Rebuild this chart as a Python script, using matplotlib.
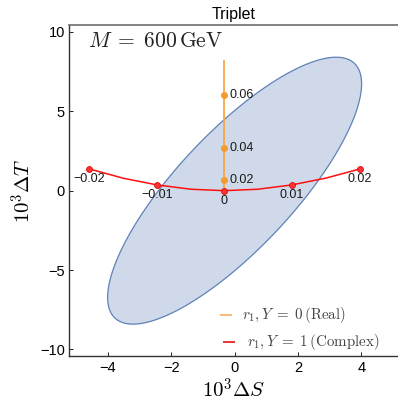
import numpy as np
import matplotlib
matplotlib.use("Agg")
import matplotlib.pyplot as plt

plt.rcParams['font.family'] = ['Liberation Sans', 'DejaVu Sans']
plt.rcParams['mathtext.fontset'] = 'cm'

# ---- data ----
# Ellipse (confidence region): centre, half-extents and correlation
ellipse_center = (0.0, 0.0)
ellipse_halfwidth_S = 4.01
ellipse_halfwidth_T = 8.41
ellipse_rho = 0.80

# Complex triplet (Y=1) curve, parametrised by r1
complex_r1 = [-0.020, -0.015, -0.010, -0.005, 0.000, 0.005, 0.010, 0.015, 0.020]
complex_S = [-4.59, -3.51, -2.44, -1.38, -0.33, 0.73, 1.80, 2.88, 3.96]
complex_T = [1.37, 0.78, 0.36, 0.09, 0.00, 0.09, 0.36, 0.79, 1.37]
complex_marked_r1 = [-0.02, -0.01, 0.0, 0.01, 0.02]
complex_labels = ["\u22120.02", "\u22120.01", "0", "0.01", "0.02"]

# Real triplet (Y=0) line, parametrised by r1
real_r1 = [0.00, 0.02, 0.04, 0.06, 0.07]
real_S = [-0.33, -0.33, -0.33, -0.33, -0.33]
real_T = [0.00, 0.67, 2.67, 6.00, 8.17]
real_marked_r1 = [0.02, 0.04, 0.06]
real_labels = ["0.02", "0.04", "0.06"]

xticks = [-4, -2, 0, 2, 4]
yticks = [-10, -5, 0, 5, 10]
legend_labels = [r"$r_1, Y \;=\; 0\,(\mathrm{Real})$", r"$r_1, Y \;=\; 1\,(\mathrm{Complex})$"]

title = "Triplet"
mass_text = r"$M \;=\; 600\,\mathrm{GeV}$"

# ---- figure ----
fig = plt.figure(figsize=(3.98, 4.03), dpi=100)
ax = fig.add_axes([69/398, 1-355.7/403, 329/398, 330.7/403])

# ellipse
t = np.linspace(0, 2*np.pi, 400)
ex = ellipse_center[0] + ellipse_halfwidth_S*np.cos(t)
ey = ellipse_center[1] + ellipse_halfwidth_T*(ellipse_rho*np.cos(t) + np.sqrt(1-ellipse_rho**2)*np.sin(t))
ax.fill(ex, ey, facecolor='#cfd9e9', edgecolor='#5f82b8', lw=0.9, zorder=1)

# real line
ax.plot(real_S, real_T, color='#f7a845', lw=1.3, zorder=2)
for r, lab in zip(real_marked_r1, real_labels):
    i = real_r1.index(r)
    ax.plot(real_S[i], real_T[i], 'o', ms=4, mfc='#f59a2c', mec='#f59a2c', zorder=3)
    ax.annotate(lab, (real_S[i], real_T[i]), xytext=(4.2, 0), textcoords='offset points',
                ha='left', va='center', fontsize=9, color='#1a1a1a', zorder=5)

# complex curve
ax.plot(complex_S, complex_T, color='#ff1010', lw=1.1, zorder=3)
for r, lab in zip(complex_marked_r1, complex_labels):
    i = complex_r1.index(r)
    ax.plot(complex_S[i], complex_T[i], 'o', ms=4.2, mfc='#ff3535', mec='#e00000', mew=0.6, zorder=4)
    ax.annotate(lab, (complex_S[i], complex_T[i]), xytext=(0, -7.2), textcoords='offset points',
                ha='center', va='center', fontsize=9, color='#1a1a1a', zorder=5)

ax.set_xlim(-5.23, 5.16)
ax.set_ylim(-10.40, 10.44)
ax.set_xticks(xticks)
ax.set_yticks(yticks)
ax.tick_params(direction='in', length=3, width=0.7, labelsize=10.5, pad=3,
               top=False, right=False, colors='#222222', labelcolor='black')
ax.tick_params(axis='x', pad=4)

for side in ['left', 'bottom']:
    ax.spines[side].set_color('#333333')
    ax.spines[side].set_linewidth(1.0)
ax.spines['top'].set_color('#777777')
ax.spines['top'].set_linewidth(1.3)
ax.spines['right'].set_visible(False)

ax.set_title(title, fontsize=11.5, pad=4)
ax.set_xlabel(r"$10^3\Delta S$", fontsize=15, labelpad=2)
ax.set_ylabel(r"$10^3\Delta T$", fontsize=15, labelpad=4)

ax.text((88-69)/329, (355.7-47)/330.7, mass_text, transform=ax.transAxes,
        fontsize=15.5, ha='left', va='baseline', color='#222222')

# legend (drawn manually to match row placement)
rows = [((220, 232), 241.7, 315, '#f7b060'), ((223, 235), 246.7, 341.7, '#e01010')]
for (lab, ((h0, h1), tx, py, c)) in zip(legend_labels, rows):
    yy = (355.7-py)/330.7
    ax.plot([(h0-69)/329, (h1-69)/329], [yy, yy], color=c, lw=1.2, transform=ax.transAxes,
            solid_capstyle='butt', zorder=6)
    ax.text((tx-69)/329, yy, lab, transform=ax.transAxes, fontsize=10.8, ha='left',
            va='center', color='#444444', zorder=6)

fig.savefig("out.png", dpi=100)
